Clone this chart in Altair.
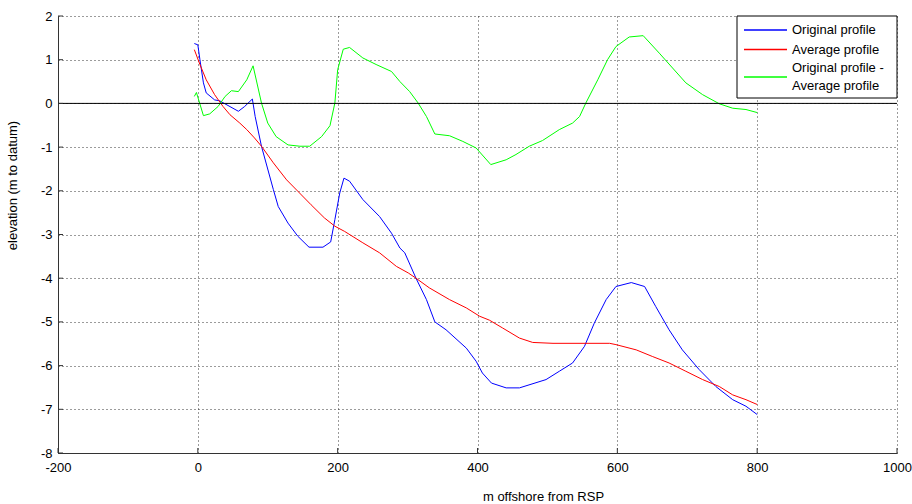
import altair as alt
import pandas as pd

# ---- data ----
series_names = ["Original profile", "Average profile", "Original profile - Average profile"]
legend_lines = [["Original profile"], ["Average profile"], ["Original profile -", "Average profile"]]
series_colors = ["#0000ff", "#ff0000", "#00ff00"]

blue_x = [-5, 0, 3, 8, 12, 24, 31, 58, 67, 78, 82, 91, 108, 115, 129, 143, 159, 179, 190, 196,
          203, 209, 217, 236, 260, 277, 289, 296, 312, 327, 339, 355, 384, 398, 407, 420, 441,
          460, 498, 517, 536, 553, 567, 584, 598, 620, 639, 655, 674, 693, 717, 741, 765, 784, 800]
blue_y = [1.37, 1.34, 1.0, 0.47, 0.24, 0.08, 0.06, -0.18, -0.07, 0.1, -0.3, -0.98, -1.97, -2.36,
          -2.74, -3.04, -3.29, -3.29, -3.17, -2.66, -2.05, -1.71, -1.78, -2.2, -2.59, -2.97, -3.31,
          -3.42, -4.0, -4.49, -5.0, -5.18, -5.6, -5.9, -6.17, -6.4, -6.51, -6.51, -6.32, -6.13,
          -5.94, -5.56, -5.03, -4.49, -4.19, -4.10, -4.19, -4.65, -5.18, -5.64, -6.09, -6.48,
          -6.78, -6.93, -7.12]

red_x = [-5, 3, 12, 24, 36, 46, 60, 70, 81, 91, 108, 127, 143, 162, 181, 196, 210, 236, 260, 284,
         301, 312, 331, 360, 384, 403, 417, 436, 460, 479, 508, 589, 598, 627, 650, 674, 698, 722,
         746, 765, 784, 800]
red_y = [1.23, 0.89, 0.54, 0.2, -0.07, -0.26, -0.45, -0.6, -0.79, -0.98, -1.36, -1.75, -2.01,
         -2.32, -2.62, -2.81, -2.93, -3.19, -3.42, -3.73, -3.88, -4.0, -4.22, -4.49, -4.68, -4.87,
         -4.96, -5.14, -5.37, -5.47, -5.49, -5.49, -5.52, -5.64, -5.79, -5.94, -6.13, -6.32,
         -6.48, -6.67, -6.78, -6.89]

green_x = [-5, -2, 8, 17, 29, 39, 48, 58, 70, 79, 91, 100, 112, 129, 146, 160, 177, 189, 196, 200,
           208, 217, 236, 255, 277, 289, 303, 315, 327, 339, 360, 379, 398, 419, 441, 455, 474,
           493, 517, 536, 546, 555, 572, 586, 598, 617, 637, 660, 679, 698, 722, 746, 765, 784, 800]
green_y = [0.16, 0.25, -0.28, -0.24, -0.07, 0.16, 0.29, 0.27, 0.54, 0.86, 0.01, -0.45, -0.76,
           -0.95, -0.98, -0.98, -0.76, -0.51, 0.01, 0.77, 1.24, 1.28, 1.04, 0.89, 0.73, 0.5, 0.27,
           0.01, -0.3, -0.70, -0.74, -0.87, -1.02, -1.40, -1.29, -1.17, -0.98, -0.85, -0.6, -0.45,
           -0.3, 0.01, 0.54, 1.0, 1.30, 1.52, 1.55, 1.15, 0.81, 0.47, 0.2, -0.01, -0.11, -0.14, -0.21]

x_ticks = [-200, 0, 200, 400, 600, 800, 1000]
y_ticks = [-8, -7, -6, -5, -4, -3, -2, -1, 0, 1, 2]

# ---- build table ----
rows = []
for name, xs, ys in zip(series_names, [blue_x, red_x, green_x], [blue_y, red_y, green_y]):
    for x, y in zip(xs, ys):
        rows.append({"series": name, "x": x, "y": y})
df = pd.DataFrame(rows)

W, H = 839, 437
FONT = "Liberation Sans"
xscale = alt.Scale(domain=[-200, 1000], nice=False, zero=False)
yscale = alt.Scale(domain=[-8, 2], nice=False, zero=False)

common = dict(grid=True, gridDash=[1, 3], gridColor="#222", gridOpacity=0.9, tickSize=0,
              domainColor="#333", labelFont=FONT, labelFontSize=13, labelColor="black",
              labelFlush=False, labelOverlap=False,
              labelExpr="'' + datum.value",
              titleFont=FONT, titleFontSize=13, titleFontWeight="normal", titleColor="black")
x_axis = alt.Axis(values=x_ticks, title="m offshore from RSP", labelPadding=8,
                  titleX=485, titleY=43, titleBaseline="middle", titleAlign="center", **common)
y_axis = alt.Axis(values=y_ticks, title="elevation (m to datum)", labelPadding=6,
                  titleX=-46, titleY=169, titleAngle=270, titleBaseline="middle",
                  titleAlign="center", **common)

lines = alt.Chart(df).mark_line(strokeWidth=1, clip=True).encode(
    x=alt.X("x:Q", scale=xscale, axis=x_axis),
    y=alt.Y("y:Q", scale=yscale, axis=y_axis),
    color=alt.Color("series:N", scale=alt.Scale(domain=series_names, range=series_colors),
                    legend=None),
)

zero = alt.Chart(pd.DataFrame({"z": [0]})).mark_rule(color="black", strokeWidth=1).encode(
    y=alt.Y("z:Q", scale=yscale, axis=y_axis)
)

xt = alt.Chart(pd.DataFrame({"t": x_ticks})).mark_rule(color="#333").encode(
    x=alt.X("t:Q", scale=xscale, axis=x_axis), y=alt.value(H), y2=alt.value(H - 5)
)
yt = alt.Chart(pd.DataFrame({"t": y_ticks})).mark_rule(color="#333").encode(
    y=alt.Y("t:Q", scale=yscale, axis=y_axis), x=alt.value(0), x2=alt.value(5)
)

# ---- legend box drawn by hand (top-right, inside the plot) ----
one = pd.DataFrame({"a": [0]})
LX0, LX1, LY0, LY1 = 679, 839, 0, 82
box = alt.Chart(one).mark_rect(fill="white", stroke="black", strokeWidth=1).encode(
    x=alt.value(LX0), x2=alt.value(LX1), y=alt.value(LY0), y2=alt.value(LY1)
)
leg_layers = [box]
sym_y = [14, 33.5, 61]
text_y = [[14], [33.5], [52, 70]]
for col, sy, lines_txt, tys in zip(series_colors, sym_y, legend_lines, text_y):
    leg_layers.append(
        alt.Chart(one).mark_rule(color=col, strokeWidth=1.5).encode(
            x=alt.value(686), x2=alt.value(729), y=alt.value(sy)
        )
    )
    for t, ty in zip(lines_txt, tys):
        leg_layers.append(
            alt.Chart(one).mark_text(text=t, align="left", baseline="middle", font=FONT,
                                     fontSize=13, color="black").encode(
                x=alt.value(734), y=alt.value(ty)
            )
        )

chart = alt.layer(lines, zero, xt, yt, *leg_layers).properties(
    width=W, height=H,
    padding={"left": 58, "top": 16, "right": 15, "bottom": 51},
    autosize=alt.AutoSizeParams(type="none"),
    background="white",
).configure_view(stroke=None)

chart.save("out.html", embed_options={"renderer": "svg", "actions": False})
